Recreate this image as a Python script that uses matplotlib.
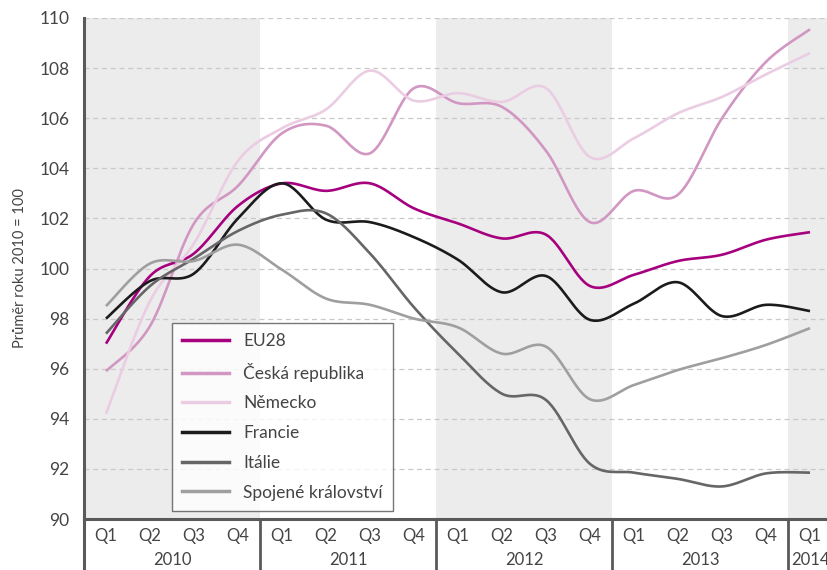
import numpy as np
import matplotlib
matplotlib.use("Agg")
import matplotlib.pyplot as plt
from matplotlib.lines import Line2D
from matplotlib.transforms import blended_transform_factory

plt.rcParams['font.family'] = ['Lato', 'DejaVu Sans']

# quarterly data, Q1 2010 .. Q1 2014
quarters = ["Q1", "Q2", "Q3", "Q4"] * 4 + ["Q1"]
years = ["2010", "2011", "2012", "2013", "2014"]

eu28 = [97.0, 99.7, 100.6, 102.5, 103.4, 103.1, 103.4, 102.4, 101.8,
        101.2, 101.35, 99.3, 99.75, 100.3, 100.55, 101.15, 101.45]
cr = [95.9, 97.7, 101.8, 103.3, 105.4, 105.7, 104.6, 107.2, 106.6,
      106.45, 104.7, 101.85, 103.1, 102.95, 106.0, 108.25, 109.55]
de = [94.2, 98.7, 101.0, 104.3, 105.6, 106.35, 107.9, 106.7, 107.0,
      106.65, 107.2, 104.45, 105.2, 106.2, 106.85, 107.75, 108.6]
fr = [98.0, 99.5, 99.8, 102.0, 103.4, 101.95, 101.85, 101.25, 100.35,
      99.05, 99.7, 97.95, 98.6, 99.45, 98.1, 98.55, 98.3]
it = [97.4, 99.3, 100.4, 101.5, 102.15, 102.2, 100.6, 98.45, 96.6,
      95.0, 94.75, 92.2, 91.85, 91.6, 91.3, 91.82, 91.85]
uk = [98.5, 100.2, 100.3, 100.95, 99.95, 98.8, 98.55, 98.0, 97.65,
      96.6, 96.88, 94.78, 95.35, 95.95, 96.42, 96.95, 97.62]

names = ["EU28", "Česká republika", "Německo", "Francie", "Itálie", "Spojené království"]
series = [eu28, cr, de, fr, it, uk]
colors = ["#a6007f", "#d197c2", "#ebcde3", "#1c1a1c", "#676567", "#a09fa0"]


def smooth(y, n=30):
    # excel-like smoothed line: bezier segments with catmull-rom handles
    y = np.asarray(y, float)
    x = np.arange(len(y), dtype=float)
    xs, ys = [], []
    for i in range(len(y) - 1):
        i0, i3 = max(i - 1, 0), min(i + 2, len(y) - 1)
        p0 = np.array([x[i], y[i]])
        p3 = np.array([x[i + 1], y[i + 1]])
        c1 = p0 + (np.array([x[i + 1], y[i + 1]]) - np.array([x[i0], y[i0]])) / 6.0
        c2 = p3 - (np.array([x[i3], y[i3]]) - np.array([x[i], y[i]])) / 6.0
        t = np.linspace(0, 1, n)[:, None]
        pts = ((1 - t) ** 3) * p0 + 3 * ((1 - t) ** 2) * t * c1 + 3 * (1 - t) * t ** 2 * c2 + t ** 3 * p3
        xs.append(pts[:, 0])
        ys.append(pts[:, 1])
    return np.concatenate(xs), np.concatenate(ys)


fig = plt.figure(figsize=(8.27, 5.70), dpi=100)
ax = fig.add_axes([84 / 827, 51 / 570, 748 / 827, 501 / 570])

ax.set_xlim(-0.5, 16.5)
ax.set_ylim(90, 110)

# shaded years 2010, 2012, 2014
for k in (0, 2, 4):
    ax.axvspan(4 * k - 0.5, 4 * k + 3.5, color="#ececec", zorder=0, lw=0)

ax.set_yticks(np.arange(90, 111, 2))
ax.yaxis.grid(True, color="#c9c9c9", linestyle=(0, (4, 3)), linewidth=0.9)
ax.set_axisbelow(True)
ax.tick_params(axis="y", length=0, labelsize=12.5, labelcolor="#444444", pad=10.5)
ax.set_xticks([])

for s in ("top", "right"):
    ax.spines[s].set_visible(False)
for s in ("left", "bottom"):
    ax.spines[s].set_color("#5a5a5a")
    ax.spines[s].set_linewidth(2.2)

for vals, col, nm in zip(series, colors, names):
    xx, yy = smooth(vals)
    ax.plot(xx, yy, color=col, lw=1.9, label=nm, solid_capstyle="butt", zorder=3)

ax.set_ylabel("Průměr roku 2010 = 100", fontsize=10.5, color="#444444", labelpad=9)

# category axis: quarters and years
tr = blended_transform_factory(ax.transData, ax.transAxes)
for i, q in enumerate(quarters):
    ax.text(i, -0.0345, q, transform=tr, ha="center", va="center", fontsize=12,
            color="#444444", clip_on=False)
for k, yr in enumerate(years):
    xc = 4 * k + 1.5 if k < 4 else 4 * k
    ax.text(xc, -0.082, yr, transform=tr, ha="center", va="center", fontsize=12,
            color="#444444", clip_on=False)
for k in range(1, 5):
    ax.plot([4 * k - 0.5] * 2, [0, -0.11], transform=tr, color="#5a5a5a", lw=2.0,
            clip_on=False, solid_capstyle="butt")
ax.plot([-0.5, -0.5], [0, -0.11], transform=tr, color="#5a5a5a", lw=2.2,
        clip_on=False, solid_capstyle="butt")

handles = [Line2D([], [], color=c, lw=2.5) for c in colors]
leg = ax.legend(handles, names, loc="lower left", bbox_to_anchor=(0.1176, 0.016),
                borderaxespad=0, fontsize=12.5, frameon=True, fancybox=False,
                edgecolor="#555555", handlelength=2.7, handletextpad=0.8,
                labelspacing=0.79, borderpad=0.6, labelcolor="#444444")
leg.get_frame().set_linewidth(1.0)

fig.savefig("out.png", dpi=100)
